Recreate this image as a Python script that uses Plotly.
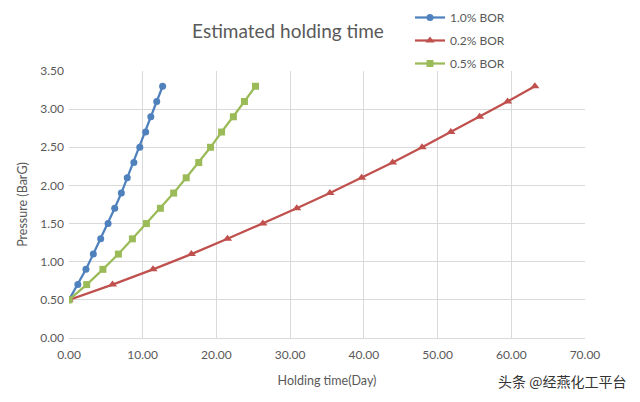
import plotly.graph_objects as go

pressure = [0.5, 0.7, 0.9, 1.1, 1.3, 1.5, 1.7, 1.9, 2.1, 2.3, 2.5, 2.7, 2.9, 3.1, 3.3]
days_1_0 = [0, 1.2, 2.3, 3.3, 4.3, 5.3, 6.2, 7.1, 7.9, 8.8, 9.6, 10.4, 11.1, 11.9, 12.7]
days_0_2 = [0, 5.9, 11.4, 16.6, 21.5, 26.3, 30.9, 35.4, 39.7, 43.9, 47.9, 51.8, 55.7, 59.5, 63.2]
days_0_5 = [0, 2.4, 4.6, 6.7, 8.6, 10.5, 12.4, 14.2, 15.9, 17.6, 19.2, 20.7, 22.3, 23.8, 25.3]

series = [
    ("1.0% BOR", days_1_0, "#4F81BD", "circle", 7),
    ("0.2% BOR", days_0_2, "#C0504D", "triangle-up", 8),
    ("0.5% BOR", days_0_5, "#9BBB59", "square", 7),
]

fig = go.Figure()
for name, xs, color, sym, size in series:
    fig.add_trace(go.Scatter(
        x=xs, y=pressure, name=name, mode="lines+markers",
        line=dict(color=color, width=2.25),
        marker=dict(symbol=sym, size=size, color=color),
        legendgroup=name,
    ))

font = "Lato, 'Open Sans', sans-serif"
grey = "#595959"
grid = "#D9D9D9"

W, H = 632, 394  # page body adds an 8px offset

fig.update_layout(
    width=W, height=H,
    margin=dict(l=61, r=55, t=63, b=64, autoexpand=False),
    paper_bgcolor="white", plot_bgcolor="white",
    font=dict(family=font, size=12, color=grey),
    title=dict(text="Estimated holding time", xref="container", yref="container",
               x=280 / W, xanchor="center", y=1 - 23 / H, yanchor="middle",
               font=dict(size=19, color=grey)),
    showlegend=True,
    legend=dict(xref="container", yref="paper", x=402 / W, y=(338 - 3) / 267,
                xanchor="left", yanchor="top",
                font=dict(size=12, color=grey), tracegroupgap=4,
                bgcolor="rgba(0,0,0,0)", itemwidth=30),
    xaxis=dict(range=[0, 70], dtick=10, tickformat=".2f",
               showgrid=True, gridcolor=grid, gridwidth=1,
               showline=True, linecolor=grid, zeroline=False,
               title=dict(text="Holding time(Day)", font=dict(size=12.5, color=grey), standoff=14),
               ticks="", ticklabelstandoff=6, fixedrange=True, automargin=False),
    yaxis=dict(range=[0, 3.5], dtick=0.5, tickformat=".2f",
               showgrid=True, gridcolor=grid, gridwidth=1,
               showline=False, zeroline=False,
               title=dict(text="Pressure (BarG)", font=dict(size=12.5, color=grey), standoff=9),
               ticks="", ticklabelstandoff=4, fixedrange=True, automargin=False),
    annotations=[dict(text="头条 @经燕化工平台", xref="paper", yref="paper",
                      x=(628 - 69) / 516, y=(338 - 381) / 267, xanchor="right", yanchor="middle",
                      showarrow=False,
                      font=dict(family="'Noto Sans CJK SC', sans-serif", size=14, color="#333333"))],
)

fig.write_html("out.html")
